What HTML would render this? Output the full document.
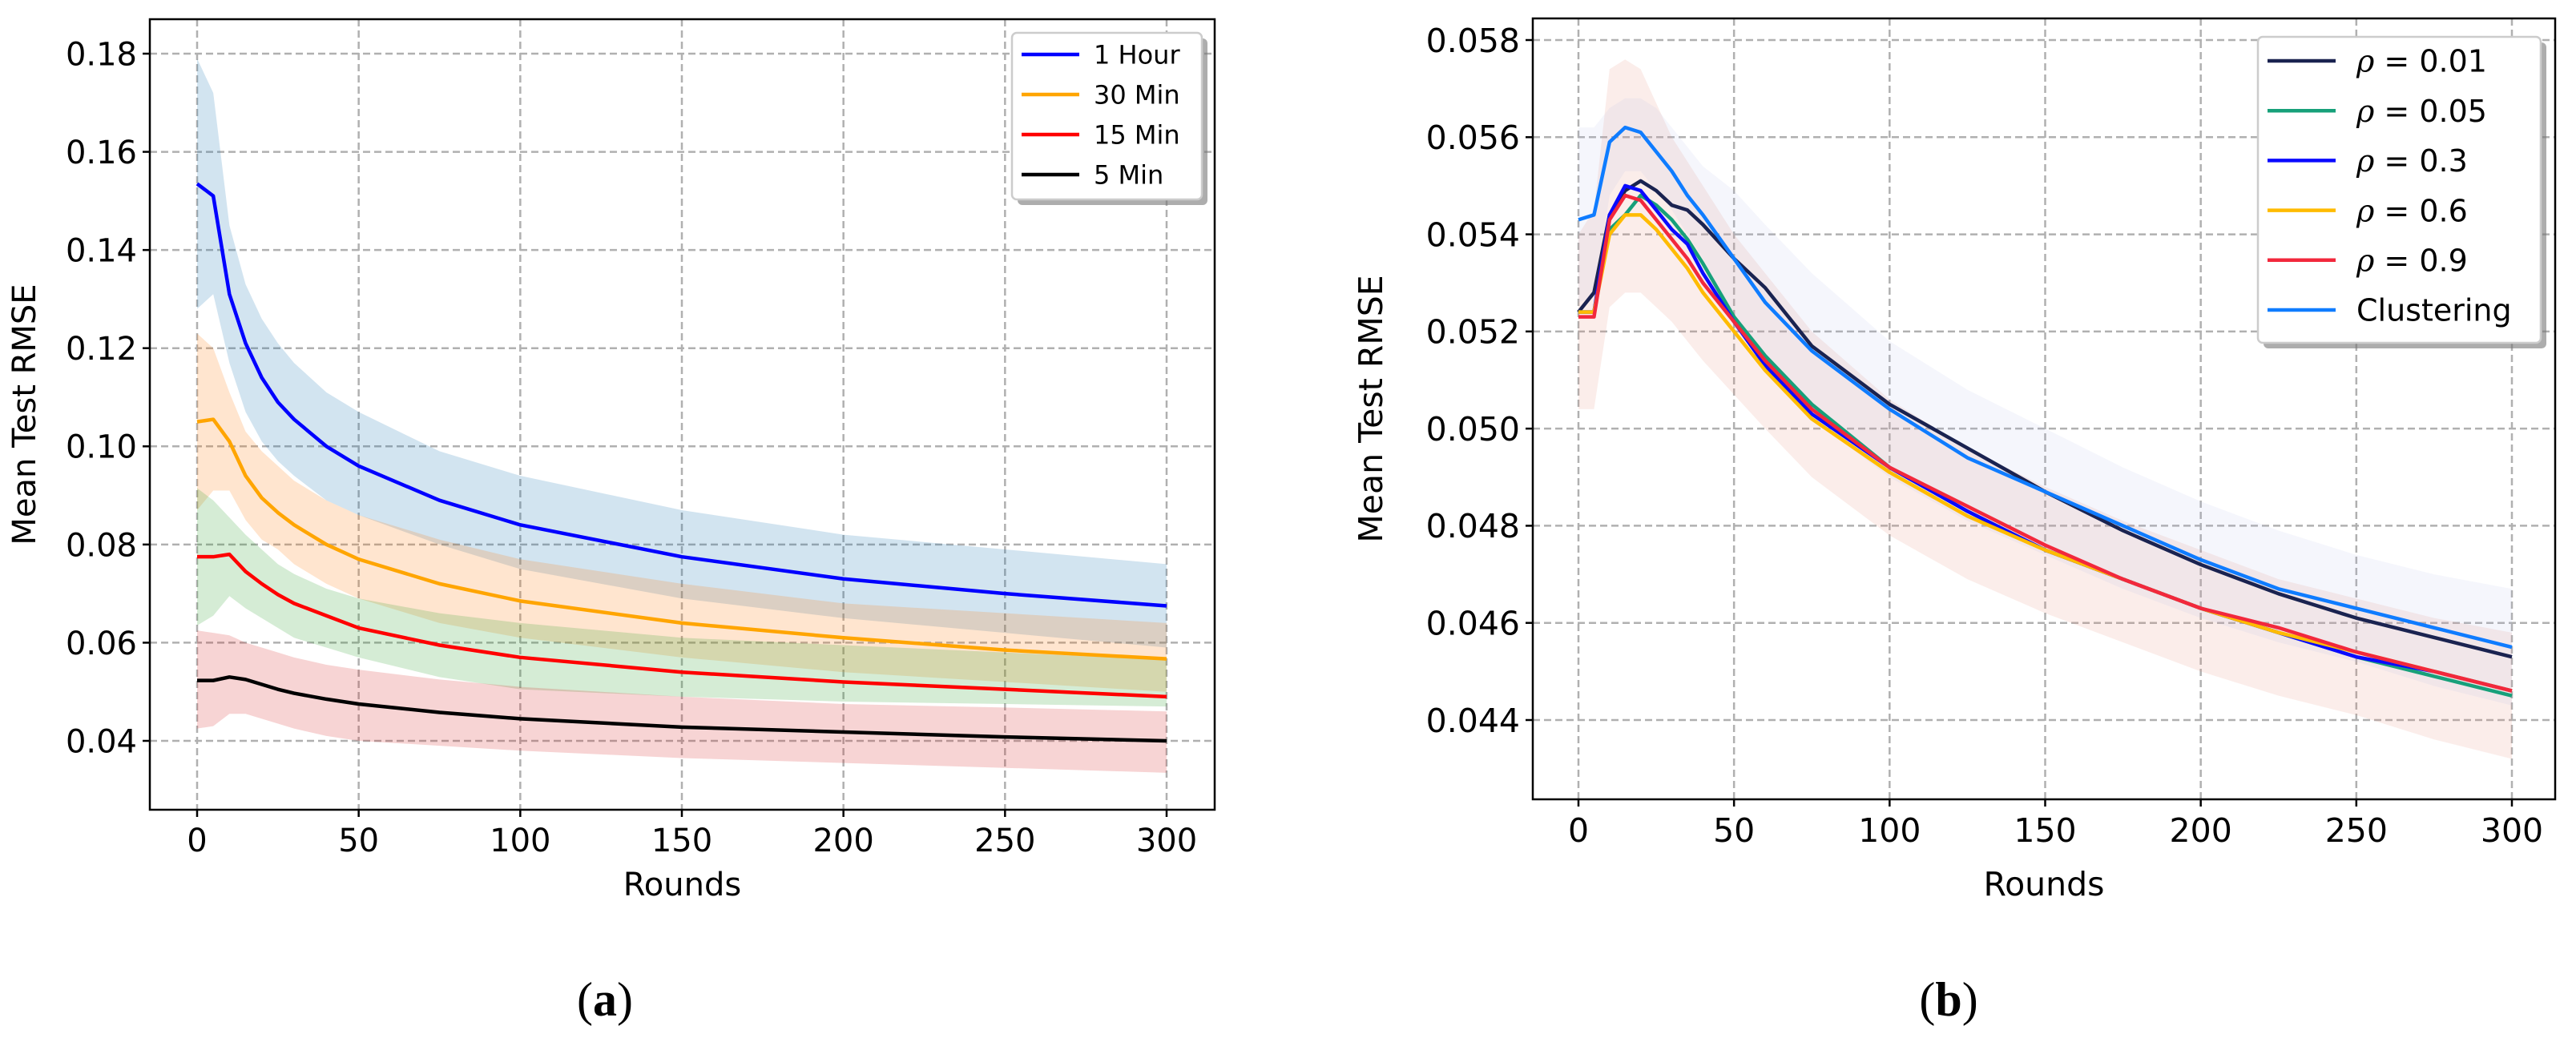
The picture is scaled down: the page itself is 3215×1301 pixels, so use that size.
<!DOCTYPE html>
<html><head><meta charset="utf-8"><style>
html,body{margin:0;padding:0;background:#fff;}
svg{display:block;font-family:"DejaVu Sans","Liberation Sans",sans-serif;}
</style></head><body>
<svg id="fig" width="3215" height="1301" viewBox="0 0 3215 1301" xmlns="http://www.w3.org/2000/svg">
<rect width="3215" height="1301" fill="#fff"/>
<g id="chartA"></g>
<g id="chartB"></g>
<text x="755" y="1268" text-anchor="middle" font-family="Liberation Serif, serif" font-size="60">(<tspan font-weight="bold">a</tspan>)</text>
<text x="2432" y="1268" text-anchor="middle" font-family="Liberation Serif, serif" font-size="60">(<tspan font-weight="bold">b</tspan>)</text>
</svg>
<script>
// ---- Chart A data ----
const roundsA = [0,5,10,15,20,25,30,40,50,75,100,150,200,250,300];
const hourY  = [0.1535,0.151,0.131,0.121,0.114,0.109,0.1055,0.100,0.096,0.089,0.084,0.0775,0.073,0.070,0.0675];
const hourHi = [0.179,0.172,0.145,0.133,0.126,0.121,0.117,0.111,0.107,0.099,0.094,0.087,0.082,0.079,0.076];
const hourLo = [0.128,0.131,0.117,0.107,0.101,0.097,0.094,0.089,0.086,0.080,0.075,0.069,0.065,0.062,0.059];
const m30Y  = [0.105,0.1055,0.101,0.094,0.0895,0.0865,0.084,0.080,0.077,0.072,0.0685,0.064,0.061,0.0585,0.0567];
const m30Hi = [0.123,0.120,0.111,0.103,0.099,0.096,0.093,0.089,0.086,0.081,0.077,0.072,0.068,0.066,0.064];
const m30Lo = [0.087,0.091,0.091,0.085,0.081,0.079,0.076,0.072,0.069,0.064,0.061,0.057,0.054,0.052,0.050];
const m15Y  = [0.0775,0.0775,0.078,0.0745,0.072,0.0698,0.068,0.0655,0.063,0.0595,0.057,0.054,0.052,0.0505,0.049];
const m15Hi = [0.0915,0.089,0.0855,0.082,0.079,0.076,0.074,0.071,0.069,0.066,0.064,0.061,0.0595,0.058,0.0565];
const m15Lo = [0.0635,0.0655,0.0695,0.067,0.065,0.063,0.061,0.059,0.057,0.053,0.0505,0.049,0.048,0.0475,0.047];
const m5Y  = [0.0523,0.0523,0.053,0.0525,0.0515,0.0505,0.0497,0.0485,0.0475,0.0458,0.0445,0.0428,0.0418,0.0408,0.040];
const m5Hi = [0.0625,0.062,0.0615,0.060,0.059,0.058,0.057,0.0555,0.0545,0.0525,0.051,0.049,0.0475,0.0468,0.046];
const m5Lo = [0.0425,0.043,0.0455,0.0455,0.0445,0.0435,0.0425,0.041,0.040,0.039,0.038,0.0365,0.0355,0.0345,0.0335];
const xTicksA = [0,50,100,150,200,250,300];
const yTicksA = [0.04,0.06,0.08,0.10,0.12,0.14,0.16,0.18];
const legendA = ["1 Hour","30 Min","15 Min","5 Min"];

// ---- Chart B data ----
const roundsB = [0,5,10,15,20,25,30,35,40,50,60,75,100,125,150,175,200,225,250,275,300];
const r001 = [0.0524,0.0528,0.0544,0.0549,0.0551,0.0549,0.0546,0.0545,0.0542,0.0535,0.0529,0.0517,0.0505,0.0496,0.0487,0.0479,0.0472,0.0466,0.0461,0.0457,0.0453];
const r005 = [0.0524,0.0524,0.0541,0.0544,0.0548,0.0546,0.0543,0.0539,0.0534,0.0523,0.0515,0.0505,0.0492,0.0483,0.0475,0.0469,0.0463,0.0458,0.0453,0.0449,0.0445];
const r03 = [0.0524,0.0524,0.0544,0.0550,0.0549,0.0545,0.0541,0.0538,0.0532,0.0522,0.0513,0.0503,0.0492,0.0483,0.0475,0.0469,0.0463,0.0458,0.0453,0.0450,0.0446];
const r06 = [0.0524,0.0524,0.0540,0.0544,0.0544,0.0541,0.0537,0.0533,0.0528,0.0520,0.0512,0.0502,0.0491,0.0482,0.0475,0.0469,0.0463,0.0458,0.0454,0.0450,0.0446];
const r09 = [0.0523,0.0523,0.0543,0.0548,0.0547,0.0543,0.0539,0.0535,0.0530,0.0522,0.0514,0.0504,0.0492,0.0484,0.0476,0.0469,0.0463,0.0459,0.0454,0.0450,0.0446];
const clu = [0.0543,0.0544,0.0559,0.0562,0.0561,0.0557,0.0553,0.0548,0.0544,0.0535,0.0526,0.0516,0.0504,0.0494,0.0487,0.0480,0.0473,0.0467,0.0463,0.0459,0.0455];
const rhoHi = [0.0540,0.0545,0.0574,0.0576,0.0574,0.0567,0.0560,0.0555,0.0550,0.0540,0.0532,0.0520,0.0506,0.0496,0.0488,0.0481,0.0475,0.0469,0.0465,0.0461,0.0458];
const rhoLo = [0.0504,0.0504,0.0525,0.0528,0.0528,0.0525,0.0522,0.0518,0.0514,0.0507,0.0500,0.0490,0.0478,0.0469,0.0462,0.0456,0.0450,0.0445,0.0441,0.0436,0.0432];
const cluHi = [0.0562,0.0562,0.0566,0.0568,0.0568,0.0566,0.0562,0.0558,0.0554,0.0549,0.0542,0.0532,0.0518,0.0508,0.0500,0.0492,0.0485,0.0479,0.0474,0.0470,0.0467];
const cluLo = [0.0526,0.0527,0.0548,0.0553,0.0553,0.0549,0.0545,0.0540,0.0535,0.0522,0.0512,0.0502,0.0490,0.0481,0.0474,0.0467,0.0461,0.0456,0.0452,0.0447,0.0443];
const xTicksB = [0,50,100,150,200,250,300];
const yTicksB = [0.044,0.046,0.048,0.050,0.052,0.054,0.056,0.058];
const legendB = ["0.01","0.05","0.3","0.6","0.9","Clustering"];

const NS = "http://www.w3.org/2000/svg";
function mk(parent, tag, attrs){
  const e = document.createElementNS(NS, tag);
  for (const k in attrs) e.setAttribute(k, attrs[k]);
  parent.appendChild(e);
  return e;
}
function lin(d0,d1,r0,r1){ return v => r0 + (v-d0)/(d1-d0)*(r1-r0); }

function drawChart(g, cfg){
  const X = lin(0,300,cfg.x0,cfg.x300);
  const Y = lin(cfg.yv0,cfg.yv1,cfg.yp0,cfg.yp1);
  cfg.xTicks.forEach(t=>{
    const l = mk(g,'line',{x1:X(t),x2:X(t),y1:cfg.top,y2:cfg.bottom,stroke:'#b0b0b0','stroke-width':2.5,'stroke-dasharray':'9,5'});
    
    
  });
  cfg.yTicks.forEach(t=>{
    const l = mk(g,'line',{x1:cfg.left,x2:cfg.right,y1:Y(t),y2:Y(t),stroke:'#b0b0b0','stroke-width':2.5,'stroke-dasharray':'9,5'});
    
    
  });
  cfg.bands.forEach(b=>{
    let d = b.hi.map((v,i)=>(i?'L':'M')+X(cfg.rounds[i])+','+Y(v)).join('');
    for(let i=b.lo.length-1;i>=0;i--) d += 'L'+X(cfg.rounds[i])+','+Y(b.lo[i]);
    const p = mk(g,'path',{d:d+'Z',fill:b.color,'fill-opacity':b.op,stroke:'none'});
    
    
  });
  cfg.series.forEach(s=>{
    const d = s.vals.map((v,i)=>(i?'L':'M')+X(cfg.rounds[i])+','+Y(v)).join('');
    const p = mk(g,'path',{d:d,fill:'none',stroke:s.color,'stroke-width':cfg.lw,'stroke-linejoin':'round'});
    
    
  });
  const f = mk(g,'rect',{x:cfg.left,y:cfg.top,width:cfg.right-cfg.left,height:cfg.bottom-cfg.top,fill:'none',stroke:'#000','stroke-width':2.5});
  
  
  cfg.xTicks.forEach(t=>{
    mk(g,'line',{x1:X(t),x2:X(t),y1:cfg.bottom,y2:cfg.bottom+9,stroke:'#000','stroke-width':2.5});
    const tx = mk(g,'text',{x:X(t),y:cfg.bottom+cfg.fs+12,'text-anchor':'middle','font-size':cfg.fs,fill:'#000'});
    tx.textContent = t;
    
    
  });
  cfg.yTicks.forEach(t=>{
    mk(g,'line',{x1:cfg.left-9,x2:cfg.left,y1:Y(t),y2:Y(t),stroke:'#000','stroke-width':2.5});
    const tx = mk(g,'text',{x:cfg.left-16,y:Y(t)+cfg.fs*0.36,'text-anchor':'end','font-size':cfg.fs,fill:'#000'});
    tx.textContent = t.toFixed(cfg.dec);
    
    
  });
  const xl = mk(g,'text',{x:(cfg.left+cfg.right)/2,y:cfg.xlabY,'text-anchor':'middle','font-size':cfg.fs,fill:'#000'});
  xl.textContent='Rounds';
  
  
  const yl = mk(g,'text',{x:0,y:0,'text-anchor':'middle','font-size':cfg.fs,fill:'#000',transform:'translate('+cfg.ylabX+','+((cfg.top+cfg.bottom)/2)+') rotate(-90)'});
  yl.textContent='Mean Test RMSE';
  
  
  const L = cfg.legend;
  mk(g,'rect',{x:L.x+7,y:L.y+7,width:L.w,height:L.h,rx:6,fill:'#777',opacity:0.6});
  const lb = mk(g,'rect',{x:L.x,y:L.y,width:L.w,height:L.h,rx:6,fill:'#fff',stroke:'#ccc','stroke-width':2.5});
  
  
  L.labels.forEach((lab,i)=>{
    const yy = L.y0 + i*L.dy;
    const ln = mk(g,'line',{x1:L.x+12,x2:L.x+12+L.lineW,y1:yy,y2:yy,stroke:cfg.series[i].color,'stroke-width':cfg.lw});
    
    
    const tx = mk(g,'text',{x:L.x+L.lineW+L.gap,y:yy+L.fs*0.36,'font-size':L.fs,fill:'#000'});
    if (L.rho && lab !== 'Clustering') {
      const a = document.createElementNS(NS,'tspan');
      a.setAttribute('font-family','DejaVu Serif, serif');
      a.setAttribute('font-style','italic');
      a.textContent = 'ρ';
      tx.appendChild(a);
      const b = document.createElementNS(NS,'tspan');
      b.textContent = ' = ' + lab;
      tx.appendChild(b);
    } else {
      tx.textContent = lab;
    }
    
    
  });
}

drawChart(document.getElementById('chartA'),{
  left:187,right:1516,top:24,bottom:1011,x0:246,x300:1456,
  yv0:0.04,yv1:0.18,yp0:925,yp1:67,xTicks:xTicksA,yTicks:yTicksA,dec:2,
  fs:40,lw:4.5,xlabY:1118,ylabX:44,rounds:roundsA,
  bands:[
    {name:'band-1-hour',hi:hourHi,lo:hourLo,color:'#1f77b4',op:0.2},
    {name:'band-30-min',hi:m30Hi,lo:m30Lo,color:'#ff7f0e',op:0.2},
    {name:'band-15-min',hi:m15Hi,lo:m15Lo,color:'#2ca02c',op:0.2},
    {name:'band-5-min',hi:m5Hi,lo:m5Lo,color:'#d62728',op:0.2}],
  series:[
    {name:'line-1-hour',vals:hourY,color:'#0000ff'},
    {name:'line-30-min',vals:m30Y,color:'#ffa500'},
    {name:'line-15-min',vals:m15Y,color:'#ff0000'},
    {name:'line-5-min',vals:m5Y,color:'#000000'}],
  legend:{x:1263,y:41,w:237,h:208,y0:68,dy:50,lineW:72,gap:30,fs:32,labels:legendA}
});

drawChart(document.getElementById('chartB'),{
  left:1913,right:3189,top:23,bottom:998,x0:1970,x300:3135,
  yv0:0.044,yv1:0.058,yp0:899,yp1:50,xTicks:xTicksB,yTicks:yTicksB,dec:3,
  fs:41,lw:4.5,xlabY:1118,ylabX:1725,rounds:roundsB,
  bands:[
    {name:'band-rho',hi:rhoHi,lo:rhoLo,color:'#e8927c',op:0.16},
    {name:'band-clustering',hi:cluHi,lo:cluLo,color:'#a9b8e6',op:0.12}],
  series:[
    {name:'line-rho-0.01',vals:r001,color:'#1a2350'},
    {name:'line-rho-0.05',vals:r005,color:'#17a07a'},
    {name:'line-rho-0.3',vals:r03,color:'#0a0aff'},
    {name:'line-rho-0.6',vals:r06,color:'#ffbb00'},
    {name:'line-rho-0.9',vals:r09,color:'#f2283c'},
    {name:'line-clustering',vals:clu,color:'#0f7cff'}],
  legend:{x:2818,y:46,w:353,h:382,y0:76,dy:62.2,lineW:85,gap:38,fs:38,rho:true,labels:legendB}
});
</script>
</body></html>
